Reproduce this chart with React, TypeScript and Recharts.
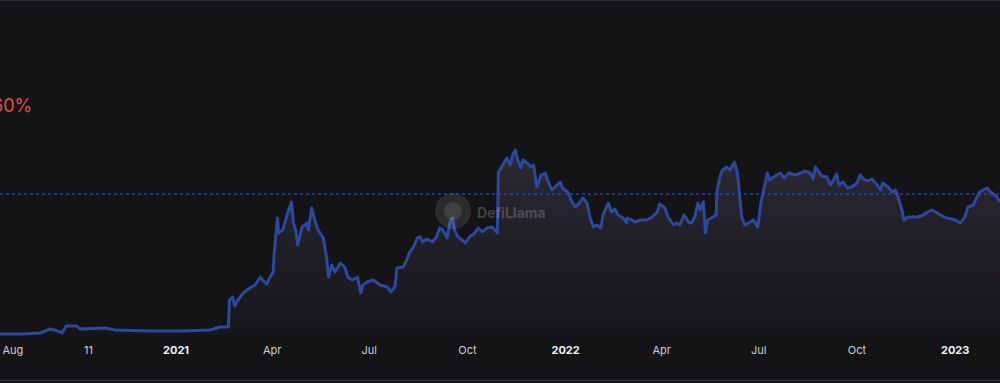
import React from 'react';
import { AreaChart, Area, XAxis, YAxis, ReferenceLine } from 'recharts';

// daily TVL samples
const dates = [
  '2020-07-20', '2020-08-08', '2020-08-27', '2020-09-05', '2020-09-12', '2020-09-16', '2020-09-20', '2020-09-30',
  '2020-10-03', '2020-10-26', '2020-11-05', '2020-12-08', '2021-01-05', '2021-02-02', '2021-02-11', '2021-02-19',
  '2021-02-20', '2021-02-23', '2021-02-25', '2021-02-28', '2021-03-05', '2021-03-11', '2021-03-16', '2021-03-21',
  '2021-03-23', '2021-03-27', '2021-03-30', '2021-04-02', '2021-04-03', '2021-04-06', '2021-04-07', '2021-04-11',
  '2021-04-15', '2021-04-19', '2021-04-21', '2021-04-23', '2021-04-25', '2021-04-29', '2021-05-04', '2021-05-05',
  '2021-05-08', '2021-05-11', '2021-05-14', '2021-05-19', '2021-05-22', '2021-05-24', '2021-05-27', '2021-05-30',
  '2021-06-04', '2021-06-08', '2021-06-11', '2021-06-15', '2021-06-20', '2021-06-23', '2021-06-25', '2021-06-29',
  '2021-07-05', '2021-07-11', '2021-07-18', '2021-07-21', '2021-07-25', '2021-07-27', '2021-08-02', '2021-08-05',
  '2021-08-08', '2021-08-11', '2021-08-15', '2021-08-18', '2021-08-20', '2021-08-24', '2021-08-29', '2021-09-02',
  '2021-09-05', '2021-09-08', '2021-09-12', '2021-09-15', '2021-09-17', '2021-09-19', '2021-09-22', '2021-09-26',
  '2021-09-29', '2021-10-03', '2021-10-08', '2021-10-11', '2021-10-15', '2021-10-19', '2021-10-24', '2021-10-27',
  '2021-10-29', '2021-10-30', '2021-11-03', '2021-11-07', '2021-11-10', '2021-11-13', '2021-11-15', '2021-11-17',
  '2021-11-20', '2021-11-22', '2021-11-26', '2021-11-29', '2021-12-02', '2021-12-05', '2021-12-09', '2021-12-13',
  '2021-12-15', '2021-12-19', '2021-12-22', '2021-12-27', '2021-12-29', '2022-01-03', '2022-01-07', '2022-01-10',
  '2022-01-13', '2022-01-17', '2022-01-21', '2022-01-24', '2022-01-27', '2022-01-30', '2022-02-03', '2022-02-05',
  '2022-02-10', '2022-02-13', '2022-02-16', '2022-02-19', '2022-02-24', '2022-02-27', '2022-02-28', '2022-03-04',
  '2022-03-07', '2022-03-12', '2022-03-18', '2022-03-23', '2022-03-28', '2022-03-30', '2022-04-04', '2022-04-07',
  '2022-04-12', '2022-04-15', '2022-04-18', '2022-04-22', '2022-04-26', '2022-04-29', '2022-05-02', '2022-05-05',
  '2022-05-07', '2022-05-10', '2022-05-11', '2022-05-12', '2022-05-14', '2022-05-19', '2022-05-22', '2022-05-23',
  '2022-05-26', '2022-05-28', '2022-06-01', '2022-06-04', '2022-06-08', '2022-06-11', '2022-06-15', '2022-06-18',
  '2022-06-23', '2022-06-26', '2022-06-30', '2022-07-03', '2022-07-05', '2022-07-09', '2022-07-11', '2022-07-18',
  '2022-07-21', '2022-07-25', '2022-07-29', '2022-08-04', '2022-08-09', '2022-08-13', '2022-08-18', '2022-08-21',
  '2022-08-23', '2022-08-25', '2022-08-29', '2022-09-03', '2022-09-06', '2022-09-09', '2022-09-12', '2022-09-14',
  '2022-09-18', '2022-09-22', '2022-09-26', '2022-10-01', '2022-10-04', '2022-10-07', '2022-10-11', '2022-10-15',
  '2022-10-20', '2022-10-23', '2022-10-25', '2022-10-30', '2022-11-03', '2022-11-06', '2022-11-08', '2022-11-12',
  '2022-11-14', '2022-11-18', '2022-11-22', '2022-11-27', '2022-12-02', '2022-12-06', '2022-12-10', '2022-12-15',
  '2022-12-20', '2022-12-24', '2022-12-29', '2023-01-03', '2023-01-06', '2023-01-10', '2023-01-13', '2023-01-18',
  '2023-01-21', '2023-01-24', '2023-01-27', '2023-01-31', '2023-02-03', '2023-02-05', '2023-02-09', '2023-02-12',
];

const tvl = [
  1, 1, 2, 6, 4, 2, 9, 9,
  6, 7, 5, 4, 4, 5, 8, 8,
  35, 38, 29, 35, 42, 47, 50, 58,
  55, 51, 58, 63, 83, 117, 102, 105,
  120, 133, 112, 105, 90, 108, 112, 105,
  127, 115, 105, 97, 77, 58, 70, 63,
  72, 68, 58, 55, 58, 42, 50, 53,
  55, 50, 48, 43, 48, 67, 68, 75,
  83, 87, 97, 98, 93, 96, 93, 98,
  107, 105, 97, 115, 117, 105, 98, 95,
  92, 98, 102, 107, 103, 107, 108, 105,
  102, 163, 170, 177, 170, 182, 185, 175,
  167, 175, 172, 168, 170, 148, 160, 162,
  155, 145, 148, 153, 147, 143, 133, 128,
  131, 137, 132, 117, 108, 110, 107, 120,
  132, 123, 126, 120, 117, 112, 117, 115,
  113, 115, 115, 118, 123, 131, 127, 118,
  110, 112, 110, 120, 113, 112, 118, 132,
  125, 133, 118, 102, 115, 118, 120, 145,
  160, 165, 168, 165, 173, 162, 118, 110,
  113, 115, 108, 132, 142, 162, 155, 160,
  162, 157, 162, 160, 162, 164, 162, 156,
  168, 165, 159, 158, 150, 155, 161, 150,
  153, 147, 148, 152, 160, 156, 154, 156,
  150, 145, 152, 148, 143, 145, 140, 125,
  115, 118, 118, 118, 120, 123, 125, 122,
  119, 117, 116, 114, 112, 118, 128, 130,
  137, 143, 145, 147, 143, 142, 138, 133,
];

const referenceValue = 141;
const domainStart = '2020-07-20';
const domainEnd = '2023-02-12';

const tickDates = [
  '2020-08-01', '2020-10-11', '2021-01-01', '2021-04-01', '2021-07-01', '2021-10-01',
  '2022-01-01', '2022-04-01', '2022-07-01', '2022-10-01', '2023-01-01',
];
const tickLabels = ['Aug', '11', '2021', 'Apr', 'Jul', 'Oct', '2022', 'Apr', 'Jul', 'Oct', '2023'];

const changeLabel = '60%';

const chartData = dates.map((d, i) => ({ ts: Date.parse(d), value: tvl[i] }));
const tickValues = tickDates.map((d) => Date.parse(d));

const AxisTick = (props: any) => {
  const { x, y, payload } = props;
  const idx = tickValues.indexOf(payload.value);
  const label = idx >= 0 ? tickLabels[idx] : '';
  const isYear = /^\d{4}$/.test(label);
  return (
    <text
      x={x}
      y={y}
      dy="0.71em"
      textAnchor="middle"
      fontSize={11}
      fontFamily="Inter, sans-serif"
      fontWeight={isYear ? 700 : 400}
      fill={isYear ? '#f2f2f2' : '#cfcfd2'}
    >
      {label}
    </text>
  );
};

export default function App() {
  return (
    <div style={{ position: 'absolute', left: 0, top: 0, width: 1000, height: 383, background: '#141416', overflow: 'hidden' }}>
      <style>{'body{margin:0;background:#141416}'}</style>
      <AreaChart width={1000} height={380} data={chartData} margin={{ top: 0, right: 0, left: 0, bottom: 0 }}>
        <defs>
          <linearGradient id="tvlFill" x1="0" y1="0" x2="0" y2="1">
            <stop offset="0%" stopColor="#3c3747" stopOpacity={1} />
            <stop offset="100%" stopColor="#18171b" stopOpacity={1} />
          </linearGradient>
        </defs>
        <XAxis
          dataKey="ts"
          type="number"
          domain={[Date.parse(domainStart), Date.parse(domainEnd)]}
          ticks={tickValues}
          interval={0}
          height={45}
          axisLine={false}
          tickLine={false}
          tickSize={0}
          tickMargin={11}
          tick={<AxisTick />}
          allowDataOverflow
        />
        <YAxis hide domain={[0, 335]} />
        <Area
          type="linear"
          dataKey="value"
          stroke="#2c489f"
          strokeWidth={3}
          strokeLinejoin="round"
          fill="url(#tvlFill)"
          dot={false}
          activeDot={false}
          isAnimationActive={false}
        />
        <ReferenceLine y={referenceValue} stroke="#3855c8" strokeDasharray="3 3" strokeWidth={1} />
      </AreaChart>
      {/* watermark, change figure and card borders */}
      <svg width={1000} height={383} style={{ position: 'absolute', left: 0, top: 0, pointerEvents: 'none' }}>
        <circle cx={453} cy={211} r={18} fill="#ffffff" fillOpacity={0.1} />
        <circle cx={453} cy={211} r={9} fill="#ffffff" fillOpacity={0.1} />
        <text x={477} y={218} fontSize={14} fontWeight={700} fontFamily="Inter, sans-serif" fill="#ffffff" fillOpacity={0.2}>
          DefiLlama
        </text>
        <text x={-8} y={112} fontSize={18} fontFamily="Inter, sans-serif" fill="#e5484d">
          {changeLabel}
        </text>
        <rect x={0} y={0} width={1000} height={1} fill="#2b2e36" />
        <rect x={0} y={380} width={1000} height={1} fill="#363944" />
      </svg>
    </div>
  );
}
